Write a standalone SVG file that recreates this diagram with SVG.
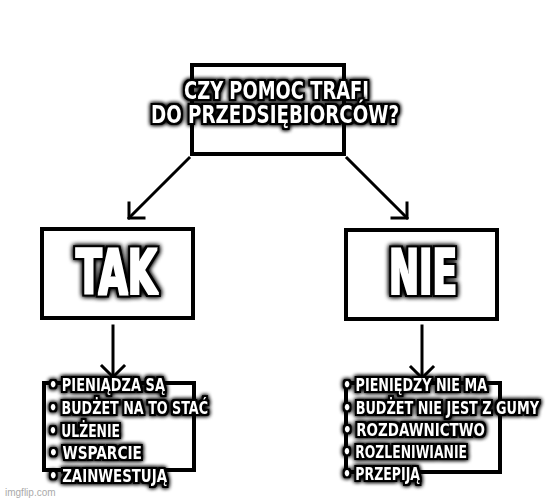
<svg xmlns="http://www.w3.org/2000/svg" width="557" height="500" viewBox="0 0 557 500">
<defs>
<filter id="imp" x="-20%" y="-50%" width="140%" height="200%" color-interpolation-filters="sRGB">
<feMorphology in="SourceAlpha" operator="dilate" radius="1.6" result="out"/>
<feGaussianBlur in="out" stdDeviation="2" result="sh"/>
<feFlood flood-color="#000" result="k"/>
<feComposite in="k" in2="out" operator="in" result="ko"/>
<feComposite in="k" in2="sh" operator="in" result="ks"/>
<feMerge><feMergeNode in="ks"/><feMergeNode in="ks"/><feMergeNode in="ko"/><feMergeNode in="SourceGraphic"/></feMerge>
</filter>
<filter id="impbig" x="-20%" y="-30%" width="140%" height="160%" color-interpolation-filters="sRGB">
<feMorphology in="SourceAlpha" operator="dilate" radius="0.8" result="core"/>
<feMorphology in="SourceAlpha" operator="dilate" radius="2.6" result="out"/>
<feGaussianBlur in="out" stdDeviation="2.5" result="sh"/>
<feFlood flood-color="#fff" result="w"/>
<feComposite in="w" in2="core" operator="in" result="wc"/>
<feFlood flood-color="#000" result="k"/>
<feComposite in="k" in2="out" operator="in" result="ko"/>
<feComposite in="k" in2="sh" operator="in" result="ks"/>
<feMerge><feMergeNode in="ks"/><feMergeNode in="ks"/><feMergeNode in="ko"/><feMergeNode in="wc"/></feMerge>
</filter>
</defs>
<style>
.box{fill:none;stroke:#000;stroke-width:4}
.ln{fill:none;stroke:#000;stroke-width:3;stroke-linecap:square}
.m{font-family:"Liberation Sans Narrow","DejaVu Sans Condensed","Liberation Sans",sans-serif;font-weight:bold;fill:#fff;filter:url(#imp)}
.t{font-size:24px}
.big{font-size:62px;filter:url(#impbig)}
.li{font-size:18.5px}
.wm{font-family:"Liberation Sans",sans-serif;font-size:10px;fill:#aaa}
</style>
<rect width="557" height="500" fill="#fff"/>
<g id="connectors">
<line class="ln" x1="189" y1="158" x2="129" y2="218"/>
<polyline class="ln" points="129,203 129,218 144,218"/>
<line class="ln" x1="347" y1="158" x2="407" y2="218"/>
<polyline class="ln" points="407,203 407,218 392,218"/>
<line class="ln" x1="113" y1="326" x2="113" y2="377"/>
<polyline class="ln" points="102,366 113,377 124,366"/>
<line class="ln" x1="422" y1="326" x2="422" y2="378"/>
<polyline class="ln" points="411,367 422,378 433,367"/>
</g>
<g id="question">
<rect class="box" x="192" y="65" width="152" height="89"/>
<text class="m t" x="184" y="98.5" textLength="185" lengthAdjust="spacingAndGlyphs">CZY POMOC TRAFI</text>
<text class="m t" x="151" y="122.5" textLength="248" lengthAdjust="spacingAndGlyphs">DO PRZEDSIĘBIORCÓW?</text>
</g>
<g id="tak">
<rect class="box" x="42" y="229" width="151" height="89"/>
<text class="m big" x="76" y="294" textLength="81" lengthAdjust="spacingAndGlyphs">TAK</text>
</g>
<g id="nie">
<rect class="box" x="346" y="230" width="151" height="89"/>
<text class="m big" x="389" y="294" textLength="68" lengthAdjust="spacingAndGlyphs">NIE</text>
</g>
<g id="tak-list">
<rect class="box" x="44" y="383" width="150" height="87"/>
<text class="m li" x="49" y="391" textLength="116" lengthAdjust="spacingAndGlyphs">• PIENIĄDZA SĄ</text>
<text class="m li" x="49" y="413.5" textLength="159" lengthAdjust="spacingAndGlyphs">• BUDŻET NA TO STAĆ</text>
<text class="m li" x="49" y="436.5" textLength="71" lengthAdjust="spacingAndGlyphs">• ULŻENIE</text>
<text class="m li" x="49" y="459" textLength="93" lengthAdjust="spacingAndGlyphs">• WSPARCIE</text>
<text class="m li" x="49" y="482" textLength="118" lengthAdjust="spacingAndGlyphs">• ZAINWESTUJĄ</text>
</g>
<g id="nie-list">
<rect class="box" x="346" y="383" width="154" height="89"/>
<text class="m li" x="343" y="391" textLength="144" lengthAdjust="spacingAndGlyphs">• PIENIĘDZY NIE MA</text>
<text class="m li" x="343" y="413.5" textLength="196" lengthAdjust="spacingAndGlyphs">• BUDŻET NIE JEST Z GUMY</text>
<text class="m li" x="343" y="436" textLength="142" lengthAdjust="spacingAndGlyphs">• ROZDAWNICTWO</text>
<text class="m li" x="343" y="458" textLength="124" lengthAdjust="spacingAndGlyphs">• ROZLENIWIANIE</text>
<text class="m li" x="343" y="480" textLength="77" lengthAdjust="spacingAndGlyphs">• PRZEPIJĄ</text>
</g>
<text class="wm" x="5" y="496">imgflip.com</text>
</svg>
